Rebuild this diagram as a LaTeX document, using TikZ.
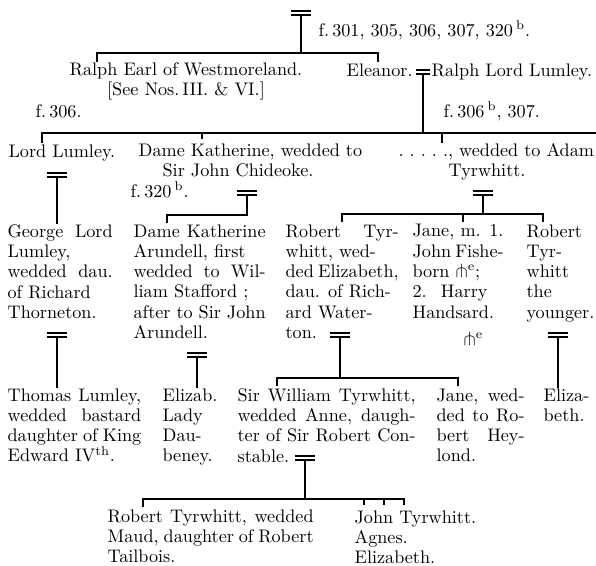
\documentclass[tikz,border=0pt]{standalone}
\usepackage{amssymb}
\newcommand{\fullline}[2]{\makebox[#1][s]{#2}}
\newcommand{\ob}{$\pitchfork$\textsuperscript{e}}
\begin{document}
\begin{tikzpicture}[
		x=0.55pt, y=-0.55pt,
		line width=0.7pt,
		every node/.style={font=\fontsize{10}{11.17}\selectfont},
		entry/.style={inner sep=0pt, anchor=north west, align=left, execute at begin node=\strut},
		wed/.style={
			minimum width=11pt, minimum height=2.3pt, inner sep=0pt, outer sep=0pt,
			append after command={(\tikzlastnode.north west) edge (\tikzlastnode.north east)
				(\tikzlastnode.south west) edge (\tikzlastnode.south east)}
		}
		]
		\useasboundingbox (0,0) rectangle (596,566);
		
		% Parents
		\node[wed] (m0) at (301,13) {};
		\node[entry, anchor=base west] (fol301) at (318,36) {f.\,301, 305, 306, 307, 320\,\textsuperscript{b}.};
		
		% Westmoreland and Lumley
		\node[entry, anchor=north, align=center] (westmoreland) at (186,61.8) {Ralph Earl of Westmoreland.\\{[}See Nos.\,III. \& VI.{]}};
		\node[entry, anchor=base west] (eleanor) at (346,76) {Eleanor.};
		\node[wed, minimum width=7.7pt, minimum height=2.2pt] (m1) at (423,72) {};
		\node[entry, anchor=base west] (ralph) at (431,76) {Ralph Lord Lumley.};
		\node[entry, anchor=base west] (fol306) at (35,117) {f.\,306.};
		\node[entry, anchor=base west] (fol306b) at (443,117) {f.\,306\,\textsuperscript{b}, 307.};
		
		% Children of Ralph Lord Lumley
		\node[entry, anchor=base west] (lumley) at (8,157) {Lord Lumley.};
		\node[entry] (katherine) at (138,142.8) {Dame Katherine, wedded to\\\hspace*{13.2pt}Sir John Chideoke.};
		\node[entry] (adam) at (398,142.8) {.\ .\ .\ .\ ., wedded to Adam\\\hspace*{27.5pt}Tyrwhitt.};
		\node[wed] (m2) at (57,175) {};
		\node[entry, anchor=base west] (fol320b) at (130,197) {f.\,320\,\textsuperscript{b}.};
		\node[wed] (m3) at (247,193) {};
		\node[wed] (m4) at (483,193) {};
		
		% Grandchildren
		\node[entry] (george) at (7,223.8) {\fullline{57.8pt}{George Lord}\\Lumley,\\\fullline{57.8pt}{wedded dau.}\\of Richard\\Thorneton.};
		\node[entry] (arundell) at (133,223.8) {\fullline{72.6pt}{Dame Katherine}\\Arundell, first\\\fullline{72.6pt}{wedded to Wil-}\\liam Stafford ;\\\fullline{72.6pt}{after to Sir John}\\Arundell.};
		\node[entry] (robert) at (285,223.8) {\fullline{62.2pt}{Robert Tyr-}\\whitt, wed-\\\fullline{62.2pt}{ded Elizabeth,}\\dau. of Rich-\\ard Water-\\ton.};
		\node[entry] (jane) at (412,223.8) {\fullline{50pt}{Jane, m. 1.}\\\fullline{50pt}{John Fishe-}\\born \ob;\\2.~ Harry\\Handsard.};
		\node[entry, anchor=base west] (jane-ob) at (463,345) {\ob};
		\node[entry] (younger) at (526,223.8) {Robert\\Tyr-\\whitt\\the\\younger.};
		\node[wed] (m7) at (57,335) {};
		\node[wed] (m8) at (197,355) {};
		\node[wed] (m5) at (340,335) {};
		\node[wed] (m6) at (558,335) {};
		
		% Great-grandchildren
		\node[entry] (thomas) at (7,387.8) {\fullline{73.5pt}{Thomas Lumley,}\\\fullline{73.5pt}{wedded bastard}\\\fullline{73.5pt}{daughter of King}\\Edward IV\textsuperscript{th}.};
		\node[entry] (elizab) at (162,387.8) {Elizab.\\Lady\\Dau-\\beney.};
		\node[entry] (william) at (237,387.8) {\fullline{97.9pt}{Sir William Tyrwhitt,}\\\fullline{97.9pt}{wedded Anne, daugh-}\\\fullline{97.9pt}{ter of Sir Robert Con-}\\stable.};
		\node[wed] (m9) at (305,458) {};
		\node[entry] (jane2) at (436,387.8) {\fullline{48.4pt}{Jane, wed-}\\\fullline{48.4pt}{ded to Ro-}\\\fullline{48.4pt}{bert Hey-}\\lond.};
		\node[entry] (eliza) at (543,387.8) {Eliza-\\beth.};
		
		% Children of Sir William
		\node[entry] (tailbois) at (107,508.8) {\fullline{113.3pt}{Robert Tyrwhitt, wedded}\\\fullline{113.3pt}{Maud, daughter of Robert}\\Tailbois.};
		\node[entry, anchor=base west] (john) at (354,523) {John Tyrwhitt.};
		\node[entry, anchor=base west] (agnes) at (354,543.3) {Agnes.};
		\node[entry, anchor=base west] (elizabeth) at (354,563.6) {Elizabeth.};
		
		% Drop points
		\coordinate (rim) at (596,0);
		\coordinate (d-west) at (97,62);
		\coordinate (d-eleanor) at (378,62);
		\coordinate (d-lumley) at (42,143);
		\coordinate (d-kath) at (202,139);
		\coordinate (d-adam) at (442,143);
		\coordinate (d-arundell) at (167,223);
		\coordinate (d-robert) at (342,222);
		\coordinate (d-jane) at (463,222);
		\coordinate (d-younger) at (543,222);
		\coordinate (d-william) at (277,386);
		\coordinate (d-jane2) at (458,386);
		\coordinate (d-tailbois) at (143,507);
		\coordinate (d-john) at (364,505);
		\coordinate (d-agnes) at (384,505);
		\coordinate (d-elizabeth) at (404,505);
		
		% Lines of descent
		\draw (m0.south) -- ++(0,38) coordinate (b0);
		\draw (d-west) |- (b0) -| (d-eleanor);
		
		\draw (m1.south) -- ++(0,59) coordinate (b1);
		\draw (d-lumley) |- (b1) -- (b1 -| rim);
		\draw (d-kath |- b1) -- (d-kath);
		\draw (d-adam |- b1) -- (d-adam);
		
		\draw (m2.south) -- (m2.south |- george.north);
		\draw (m3.south) -- ++(0,20) -| (d-arundell);
		
		\draw (m4.south) -- ++(0,19) coordinate (b4);
		\draw (d-robert) |- (b4) -| (d-younger);
		\draw (d-jane |- b4) -- (d-jane);
		
		\draw (m7.south) -- (m7.south |- thomas.north);
		\draw (m8.south) -- (m8.south |- elizab.north);
		\draw (m6.south) -- (m6.south |- eliza.north);
		
		\draw (m5.south) -- ++(0,41) coordinate (b5);
		\draw (d-william) |- (b5) -| (d-jane2);
		
		\draw (m9.south) -- ++(0,39) coordinate (b9);
		\draw (d-tailbois) |- (b9) -| (d-elizabeth);
		\draw (d-john |- b9) -- (d-john);
		\draw (d-agnes |- b9) -- (d-agnes);
		
	\end{tikzpicture}
\end{document}
